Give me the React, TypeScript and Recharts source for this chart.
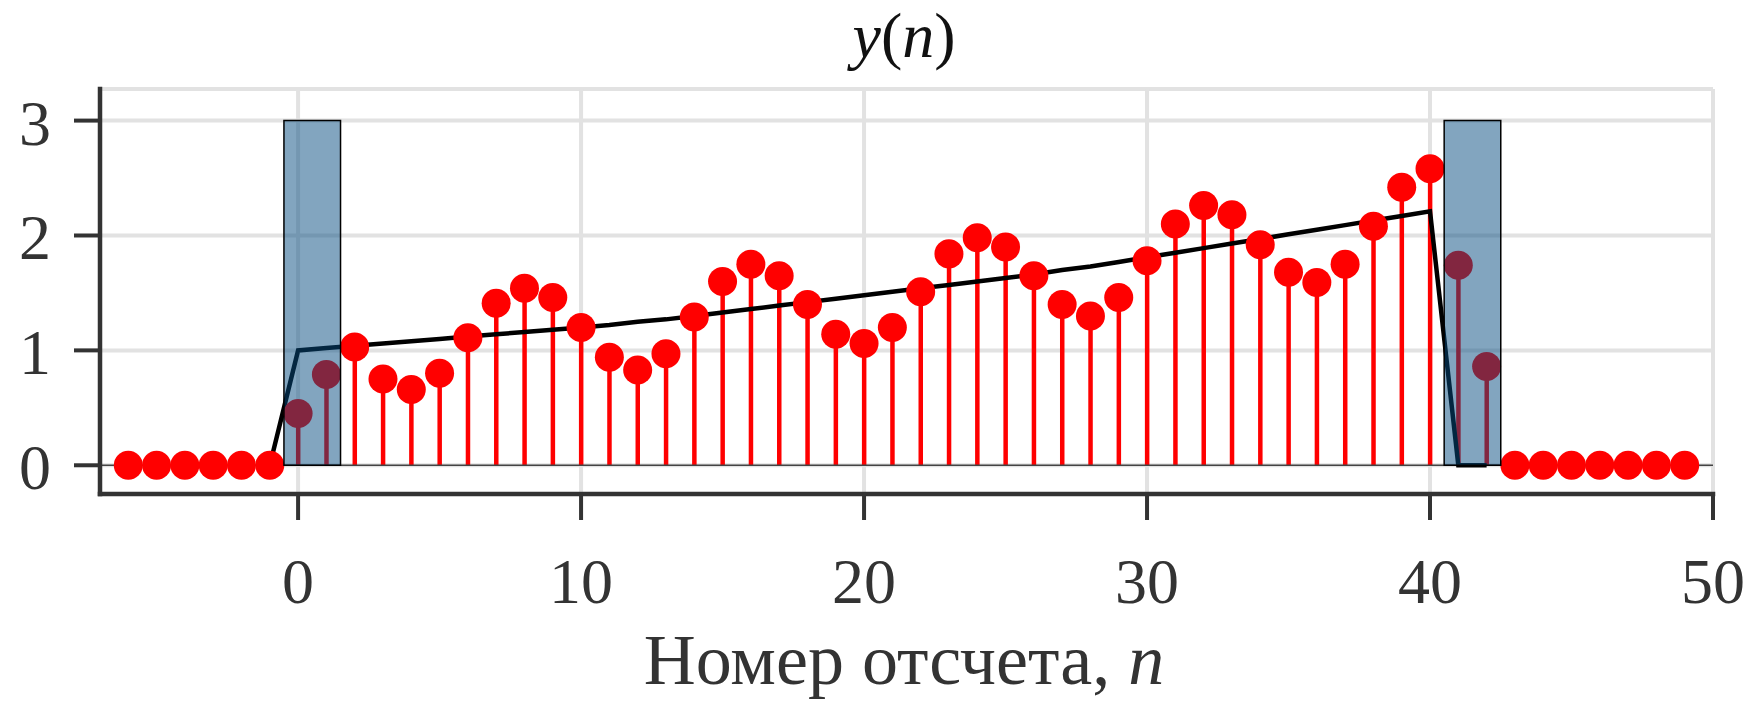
import { ComposedChart, Bar, Line, Scatter, XAxis, YAxis, CartesianGrid, ReferenceArea, ReferenceLine } from "recharts";

document.body.style.margin = "0";

// номера отсчетов n = -6 ... 49
const sampleN = Array.from({ length: 56 }, (_, i) => i - 6);

// значения y(n)
const stemY = [
  0, 0, 0, 0, 0, 0,
  0.45, 0.79, 1.03, 0.75, 0.66, 0.8, 1.11, 1.41, 1.54, 1.46, 1.2,
  0.94, 0.83, 0.97, 1.29, 1.6, 1.75, 1.65, 1.4, 1.14, 1.06,
  1.2, 1.51, 1.84, 1.98, 1.9, 1.65, 1.4, 1.3, 1.46, 1.78,
  2.1, 2.26, 2.18, 1.92, 1.68, 1.59, 1.75, 2.08, 2.42, 2.58,
  1.74, 0.86,
  0, 0, 0, 0, 0, 0, 0,
];

// огибающая (черная линия)
const envN = [
  -1, 0, 1, 2, 3, 4, 5, 6, 7, 8, 9, 10, 11, 12, 13, 14, 15, 16, 17, 18, 19, 20,
  21, 22, 23, 24, 25, 26, 27, 28, 29, 30, 31, 32, 33, 34, 35, 36, 37, 38, 39, 40, 41, 42,
];
const envY = [
  0, 1.0, 1.02, 1.04, 1.06, 1.08, 1.1, 1.12, 1.14, 1.16, 1.18, 1.2, 1.22, 1.25, 1.27, 1.3,
  1.33, 1.36, 1.39, 1.42, 1.45, 1.48, 1.51, 1.54, 1.57, 1.6, 1.63, 1.66, 1.7, 1.73, 1.77,
  1.81, 1.85, 1.89, 1.93, 1.97, 2.01, 2.05, 2.09, 2.13, 2.17, 2.21, 0, 0,
];

// окна (синие прямоугольники)
const winStart = [-0.5, 40.5];
const winEnd = [1.5, 42.5];
const winTop = 3;

const xTicks = [0, 10, 20, 30, 40, 50];
const yTicks = [0, 1, 2, 3];

const FONT = "'Liberation Serif', 'Times New Roman', serif";
const AXIS = "#333333";

const data = sampleN.map((n, i) => {
  const k = envN.indexOf(n);
  return { n, y: stemY[i], env: k >= 0 ? envY[k] : null };
});

const XTick = ({ x, y, payload }: any) => (
  <text x={x} y={y + 81} textAnchor="middle" fontSize={64} fontFamily={FONT} fill={AXIS}>
    {payload.value}
  </text>
);

const YTick = ({ x, y, payload }: any) => (
  <text x={x - 21} y={y + 24} textAnchor="end" fontSize={64} fontFamily={FONT} fill={AXIS}>
    {payload.value}
  </text>
);

const Dot = ({ cx, cy }: any) => <circle cx={cx} cy={cy} r={14.5} fill="#ff0000" />;

export default function App() {
  return (
    <div style={{ width: 1755, height: 701, background: "#fff" }}>
      <ComposedChart
        width={1755}
        height={701}
        data={data}
        margin={{ top: 89, right: 42, bottom: 0, left: 0 }}
      >
        <CartesianGrid stroke="#e2e2e2" strokeWidth={4} />
        <XAxis
          dataKey="n"
          type="number"
          domain={[-7, 50]}
          ticks={xTicks}
          allowDataOverflow
          height={207}
          tickSize={26}
          axisLine={{ stroke: AXIS, strokeWidth: 4.5, strokeLinecap: "square" }}
          tickLine={{ stroke: AXIS, strokeWidth: 4 }}
          tick={<XTick />}
        />
        <YAxis
          type="number"
          domain={[-0.25, 3.275]}
          ticks={yTicks}
          allowDataOverflow
          width={100}
          tickSize={26}
          axisLine={{ stroke: AXIS, strokeWidth: 4.5, strokeLinecap: "square" }}
          tickLine={{ stroke: AXIS, strokeWidth: 4 }}
          tick={<YTick />}
        />
        <ReferenceLine y={0} stroke="#444" strokeWidth={1.5} />
        <Line
          dataKey="env"
          type="linear"
          stroke="#000"
          strokeWidth={4.5}
          dot={false}
          activeDot={false}
          connectNulls
          isAnimationActive={false}
        />
        <Bar dataKey="y" barSize={4.5} fill="#ff0000" isAnimationActive={false} />
        <Scatter dataKey="y" shape={<Dot />} isAnimationActive={false} />
        {winStart.map((x1, i) => (
          <ReferenceArea
            key={i}
            x1={x1}
            x2={winEnd[i]}
            y1={0}
            y2={winTop}
            fill="#064c80"
            fillOpacity={0.5}
            stroke="#000"
            strokeWidth={1.5}
            zIndex={900}
          />
        ))}
        <text x={904} y={57} textAnchor="middle" fontSize={64} fontFamily={FONT} fill="#111">
          <tspan fontStyle="italic">y</tspan>(<tspan fontStyle="italic">n</tspan>)
        </text>
        <text x={904} y={684} textAnchor="middle" fontSize={72} fontFamily={FONT} fill={AXIS}>
          Номер отсчета, <tspan fontStyle="italic">n</tspan>
        </text>
      </ComposedChart>
    </div>
  );
}
